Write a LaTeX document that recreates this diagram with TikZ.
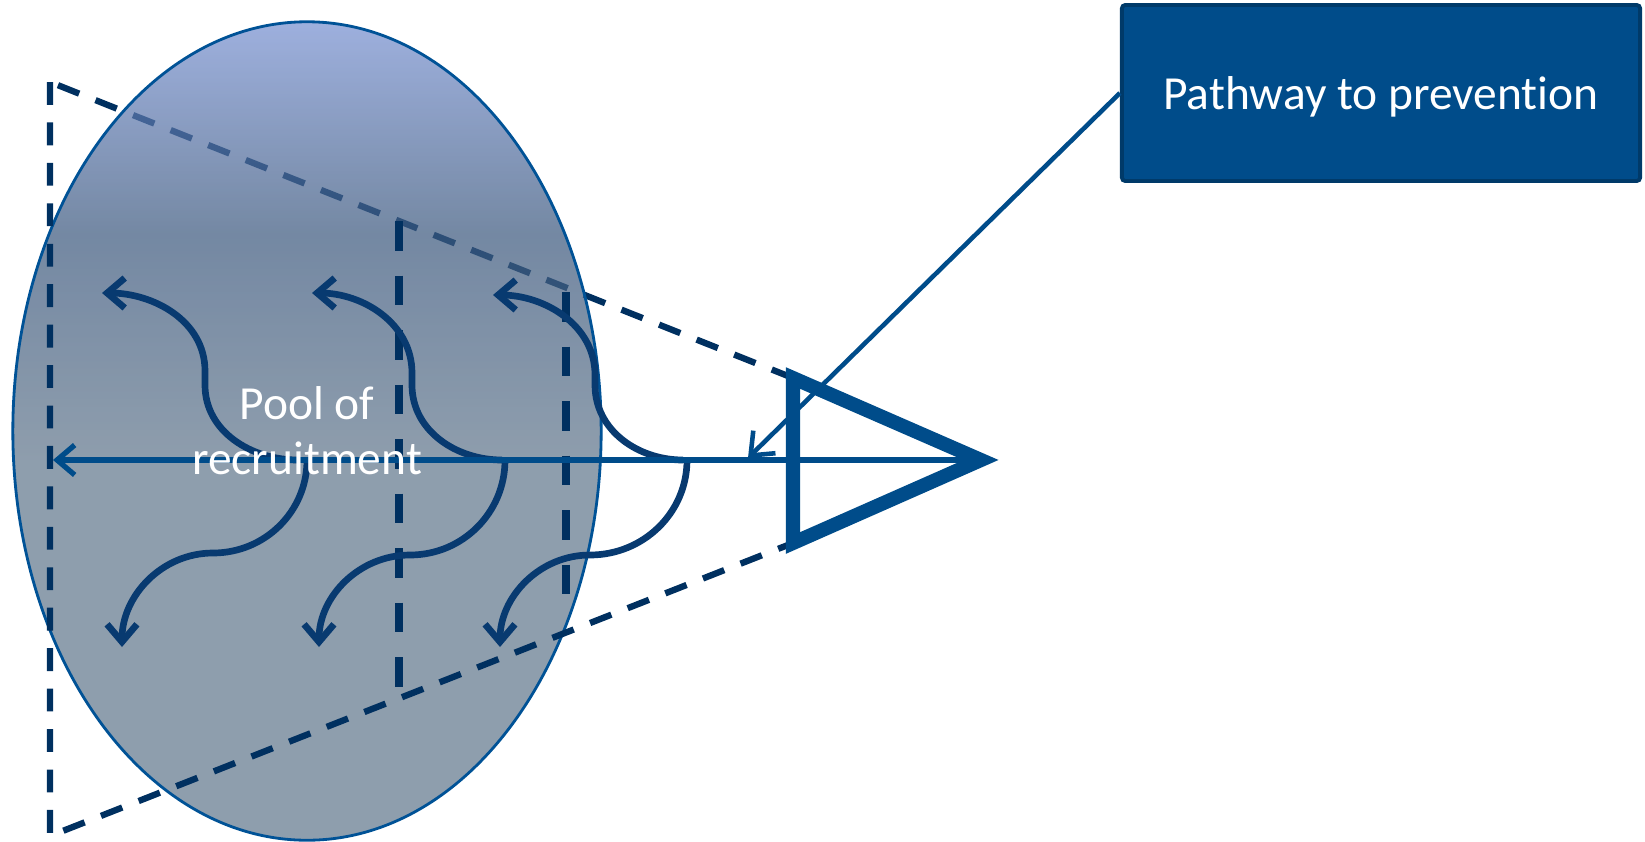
\documentclass[tikz,border=0pt]{standalone}
\usepackage{fontspec}
\newfontfamily\calibri{Carlito}[Ligatures=NoCommon]
\usetikzlibrary{arrows.meta}
\usetikzlibrary{shapes.geometric}
\definecolor{navy}{RGB}{0,48,96}
\definecolor{curveblue}{RGB}{8,58,112}
\definecolor{lineblue}{RGB}{0,76,138}
\definecolor{rimblue}{RGB}{0,82,150}
\definecolor{boxrim}{RGB}{0,58,105}
\definecolor{poolT}{RGB}{120,145,209}
\definecolor{poolA}{RGB}{62,90,127}
\definecolor{poolC}{RGB}{99,120,141}
\pgfdeclareverticalshading{poolshade}{100bp}{color(0bp)=(poolC); color(48bp)=(poolC); color(62bp)=(poolA); color(75bp)=(poolT); color(100bp)=(poolT)}

\begin{document}
\begin{tikzpicture}[x=0.01cm,y=0.01cm,
  outline/.style={navy,line width=1.8pt,dash pattern=on 6.5pt off 5pt},
  cut/.style={navy,line width=2.2pt,dash pattern=on 8.5pt off 7pt},
  flow/.style={curveblue,line width=1.9pt,-{Straight Barb[length=5pt,width=8.5pt]}},
  pool/.style={ellipse,draw=rimblue,line width=0.8pt,shade,shading=poolshade,fill opacity=0.72,minimum width=5.88cm,minimum height=8.18cm,inner sep=0pt},
  poolfont/.style={text=white,font=\calibri\fontsize{13.5}{15.6}\selectfont,align=center},
  prevbox/.style={fill=lineblue,draw=boxrim,line width=1.1pt,rounded corners=1pt,text=white,font=\calibri\fontsize{13.5}{15.6}\selectfont,text depth=0pt,minimum width=5.18cm,minimum height=1.76cm}]
\useasboundingbox (0,0) rectangle (1645,841);
\coordinate (tl) at (50,759);
\coordinate (bl) at (50,5);
\coordinate (tc) at (793,463);
\coordinate (bc) at (793,298);
\coordinate (apex) at (981,381);
\coordinate (lefttip) at (53,381);
\draw[outline] (tc) -- (tl);
\node[pool] (pool) at (307,410) {};
\draw[outline] (tl) -- (bl) -- (bc);
\coordinate (c1t) at (399,620);
\coordinate (c1b) at (399,143);
\coordinate (c2t) at (566,549);
\coordinate (c2b) at (566,235);
\draw[cut] (c1t) -- (c1b);
\draw[cut] (c2t) -- (c2b);
\coordinate (m1) at (298,381);
\coordinate (t1) at (102,548);
\coordinate (n1) at (307,381);
\coordinate (b1) at (122,194);
\coordinate (m2) at (502,381);
\coordinate (t2) at (312,548);
\coordinate (n2) at (505,381);
\coordinate (b2) at (319,194);
\coordinate (m3) at (683,381);
\coordinate (t3) at (493,546);
\coordinate (n3) at (687,381);
\coordinate (b3) at (500,194);
\draw[flow] (m1) to[out=180,in=-90] (205,456) -- (205,470) to[out=90,in=0] (t1);
\draw[flow] (n1) to[out=-90,in=0] (213,288) to[out=180,in=90] (b1);
\draw[flow] (m2) to[out=180,in=-90] (412,456) -- (412,468) to[out=90,in=0] (t2);
\draw[flow] (n2) to[out=-90,in=0] (410,286) to[out=180,in=90] (b2);
\draw[flow] (m3) to[out=180,in=-90] (595,456) -- (595,466) to[out=90,in=0] (t3);
\draw[flow] (n3) to[out=-90,in=0] (590,286) to[out=180,in=90] (b3);
\draw[lineblue,line width=1.5pt,-{Straight Barb[length=5pt,width=8.5pt]}] (apex) -- (lefttip);
\draw[lineblue,line width=4pt] (tc) -- (apex) -- (bc) -- cycle;
\node[prevbox] (prev) at (1381,748) {Pathway to prevention};
\coordinate (hit) at (748,383);
\draw[lineblue,line width=1.3pt,-{Straight Barb[length=5.5pt,width=9pt]}] (prev.west) -- (hit);
\node[poolfont] (poollabel) at (pool.center) {Pool of\\recruitment};
\end{tikzpicture}
\end{document}
